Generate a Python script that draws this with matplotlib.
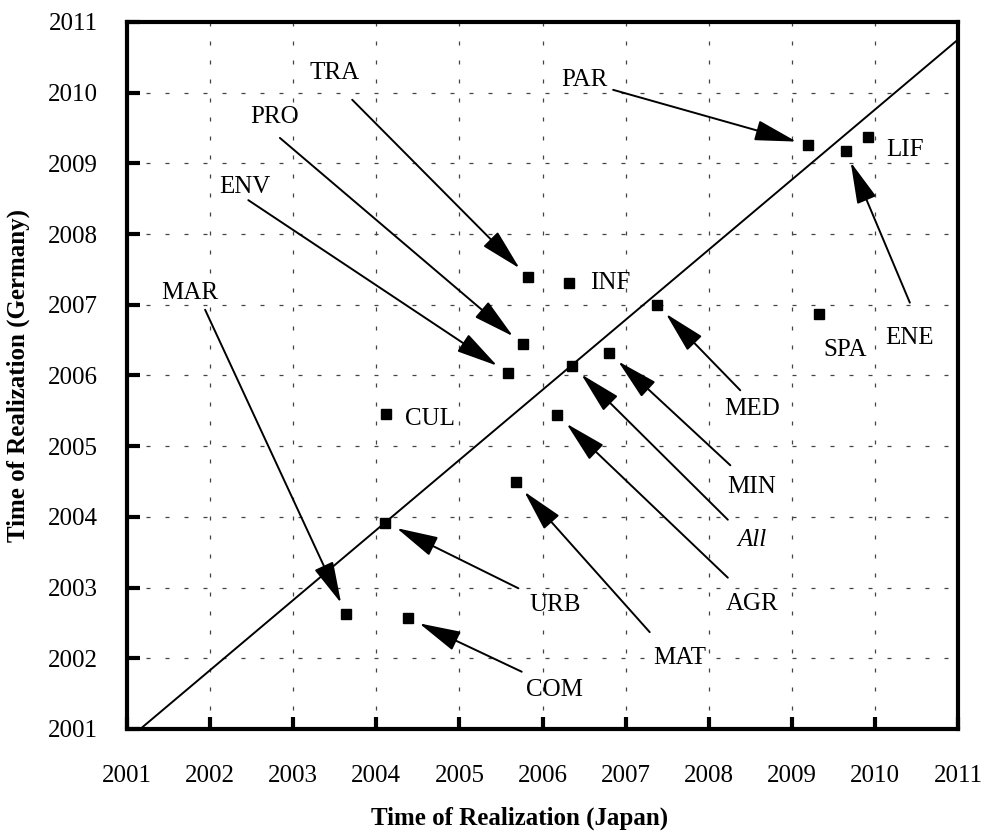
import matplotlib
matplotlib.use('Agg')
import matplotlib.pyplot as plt

plt.rcParams['font.family'] = ['Liberation Serif', 'DejaVu Serif']

# fields: realization year in Japan vs Germany
fields = ['TRA', 'INF', 'PRO', 'ENV', 'All', 'MIN', 'MED', 'AGR', 'CUL',
          'MAT', 'URB', 'MAR', 'COM', 'PAR', 'ENE', 'LIF', 'SPA']
japan = [2005.83, 2006.32, 2005.76, 2005.58, 2006.36, 2006.80, 2007.38,
         2006.18, 2004.12, 2005.68, 2004.11, 2003.64, 2004.38, 2009.20,
         2009.65, 2009.92, 2009.33]
germany = [2007.39, 2007.31, 2006.44, 2006.04, 2006.14, 2006.32, 2007.00,
           2005.44, 2005.46, 2004.49, 2003.92, 2002.62, 2002.57, 2009.26,
           2009.18, 2009.38, 2006.87]

# fitted line y = slope * (x - x0) + 2001
fit_slope = 0.991
fit_x0 = 2001.16

ticks = list(range(2001, 2012))

# label layout: (text x, text y, arrow tail x, arrow tail y) or (text x, text y, None, None)
layout = {
    'TRA': (2003.50, 2010.28, 2003.71, 2009.90),
    'PRO': (2002.78, 2009.66, 2002.84, 2009.36),
    'ENV': (2002.42, 2008.67, 2002.46, 2008.48),
    'MAR': (2001.76, 2007.17, 2001.94, 2006.93),
    'PAR': (2006.51, 2010.18, 2006.85, 2010.04),
    'ENE': (2010.42, 2006.53, 2010.42, 2007.03),
    'MED': (2008.52, 2005.53, 2008.38, 2005.79),
    'MIN': (2008.52, 2004.42, 2008.26, 2004.73),
    'All': (2008.52, 2003.67, 2008.23, 2003.96),
    'AGR': (2008.52, 2002.77, 2008.23, 2003.14),
    'MAT': (2007.65, 2002.00, 2007.29, 2002.37),
    'URB': (2006.15, 2002.75, 2005.71, 2002.99),
    'COM': (2006.15, 2001.55, 2005.75, 2001.81),
    'CUL': (2004.64, 2005.38, None, None),
    'INF': (2006.82, 2007.31, None, None),
    'LIF': (2010.36, 2009.19, None, None),
    'SPA': (2009.64, 2006.36, None, None),
}

fig = plt.figure(figsize=(9.82, 8.32), dpi=100)
ax = fig.add_axes([0.1293, 0.1238, 0.8463, 0.8498])

ax.set_xlim(2001, 2011)
ax.set_ylim(2001, 2011)
ax.set_xticks(ticks)
ax.set_yticks(ticks)
ax.grid(True, color='#444444', linestyle=(0, (3.2, 12)), linewidth=0.9)

xs = [fit_x0, 2011]
ax.plot(xs, [fit_slope * (x - fit_x0) + 2001 for x in xs], color='black', lw=1.4, zorder=2)

ax.plot(japan, germany, 's', color='black', markersize=6.5, zorder=3)

for name, x, y in zip(fields, japan, germany):
    tx, ty, ax_, ay = layout[name]
    style = 'italic' if name == 'All' else 'normal'
    ax.text(tx, ty, name, fontsize=18, ha='center', va='center', style=style)
    if ax_ is not None:
        ax.annotate('', xy=(x, y), xytext=(ax_, ay),
                    arrowprops=dict(arrowstyle='-|>,head_length=1.3,head_width=0.32',
                                    color='black', lw=1.4, mutation_scale=20,
                                    shrinkA=0, shrinkB=9))

for s in ax.spines.values():
    s.set_linewidth(3)
ax.tick_params(direction='in', length=9, width=3, labelsize=18)
ax.tick_params(axis='x', pad=26)
ax.tick_params(axis='y', pad=21)

ax.set_xlabel('Time of Realization (Japan)', fontsize=18, fontweight='bold', va='center')
ax.set_ylabel('Time of Realization (Germany)', fontsize=18, fontweight='bold', va='center')
ax.xaxis.set_label_coords(0.472, -0.126)
ax.yaxis.set_label_coords(-0.131, 0.5)

fig.savefig('out.png', dpi=100)
